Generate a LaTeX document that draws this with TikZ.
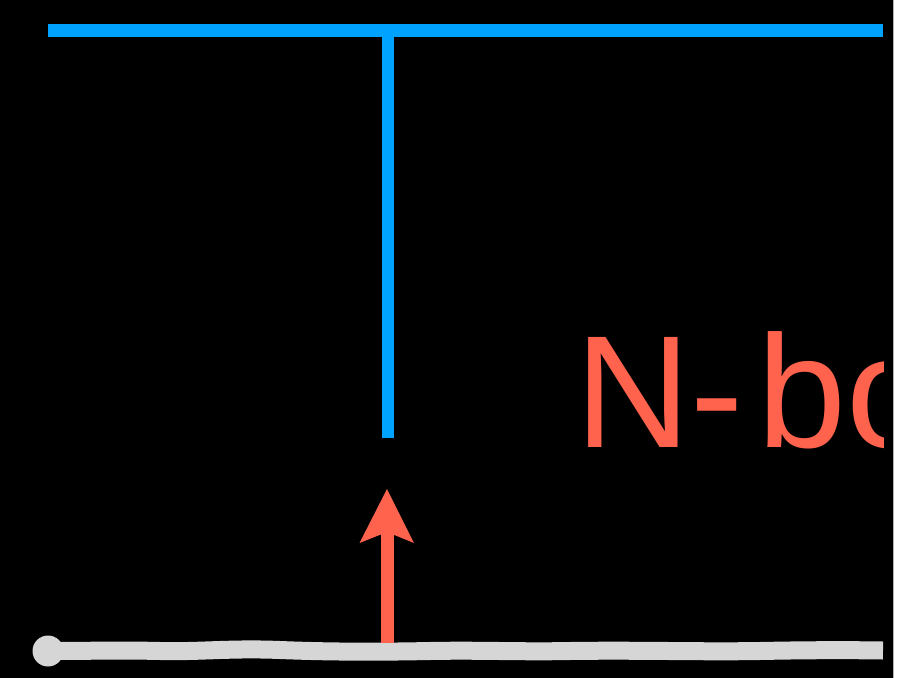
\documentclass[tikz,border=0pt]{standalone}
\usepackage{fontspec}
\setmainfont{Liberation Sans}
\definecolor{bluebar}{RGB}{0,162,255}
\definecolor{tomatored}{RGB}{255,99,78}
\definecolor{groundgrey}{RGB}{214,214,214}
\tikzset{
  bluestroke/.style={draw=bluebar,line width=13pt,line cap=butt},
  groundstroke/.style={draw=groundgrey,line width=18pt,line cap=butt,line join=round},
  arrowshaft/.style={draw=tomatored,line width=13pt,line cap=butt},
  labeltext/.style={text=tomatored,font=\fontsize{160}{160}\selectfont,inner sep=0pt,anchor=base west}
}
\begin{document}
\begin{tikzpicture}[x=1pt,y=-1pt]
\useasboundingbox (0,0) rectangle (898,678);
\fill[white] (0,0) rectangle (898,678);
\fill[black] (0,0) rectangle (893,678);
\draw[gray!60,line width=0.8pt] (893.5,0) -- (893.5,678);
% coordinates
\coordinate (barL) at (48,30.5);
\coordinate (barR) at (883,30.5);
\coordinate (stemTop) at (388,30.5);
\coordinate (stemBot) at (388,438);
\coordinate (arrBase) at (387,643);
\coordinate (arrJoin) at (387,532);
\coordinate (arrTip) at (387,489);
% blue T
\draw[bluestroke] (barL) -- (barR);
\draw[bluestroke,line width=12.6pt] (stemTop) -- (stemBot);
% ground line
\fill[groundgrey] (48,651) circle (15.5);
\draw[groundstroke] (48,651) .. controls (90,651) and (120,650) .. (160,651)
  .. controls (200,652) and (230,648) .. (280,650)
  .. controls (330,652) and (380,652) .. (430,651)
  .. controls (480,650) and (520,652) .. (570,651)
  .. controls (640,650) and (700,652) .. (760,651)
  .. controls (810,650) and (850,650) .. (883,650.5);
% arrow
\draw[arrowshaft] (arrBase) -- (arrJoin);
\fill[tomatored] (arrTip) -- (414,543) -- (arrJoin) -- (359.5,543) -- cycle;
% label, clipped at the panel edge as in the reference
\begin{scope}
\clip (0,0) rectangle (883,678);
\node[labeltext] (lbl) at (575,447) {N-\kern14pt bo};
\end{scope}
\end{tikzpicture}
\end{document}
